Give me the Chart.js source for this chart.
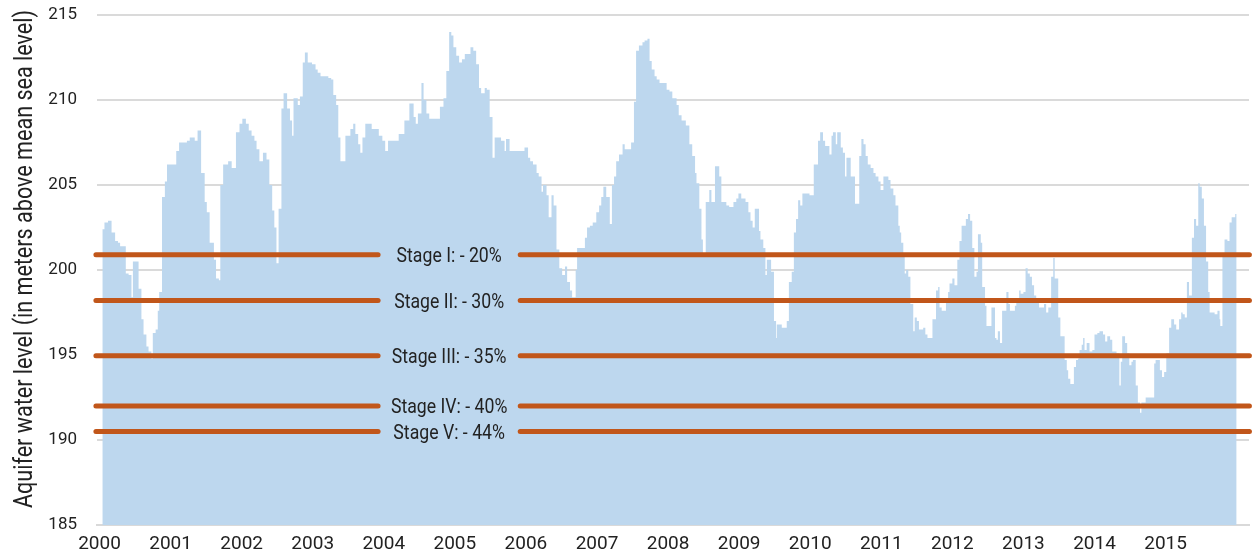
<!DOCTYPE html>
<html>
<head>
<meta charset="utf-8">
<script src="https://cdn.jsdelivr.net/npm/chart.js@4.4.1/dist/chart.umd.min.js"></script>
<style>
  html, body { margin: 0; padding: 0; background: #ffffff; }
  #wrap { width: 1256px; height: 558px; }
</style>
</head>
<body>
<div id="wrap"><canvas id="chart" width="1256" height="558"></canvas></div>
<script>
// Aquifer level record: each reading holds until the next one (decimal year, metres above mean sea level)
const dates = [
  2000.04, 2000.07, 2000.12, 2000.17, 2000.22, 2000.26, 2000.29, 2000.37, 2000.41, 2000.45,
  2000.47, 2000.55, 2000.59, 2000.62, 2000.66, 2000.69, 2000.73, 2000.75, 2000.79, 2000.82,
  2000.84, 2000.88, 2000.92, 2000.95, 2001.08, 2001.12, 2001.23, 2001.27, 2001.34, 2001.38,
  2001.43, 2001.48, 2001.51, 2001.55, 2001.61, 2001.64, 2001.68, 2001.70, 2001.74, 2001.81,
  2001.86, 2001.92, 2001.97, 2002.01, 2002.06, 2002.10, 2002.14, 2002.18, 2002.21, 2002.25,
  2002.30, 2002.35, 2002.39, 2002.43, 2002.46, 2002.49, 2002.52, 2002.56, 2002.59, 2002.64,
  2002.68, 2002.71, 2002.73, 2002.79, 2002.82, 2002.86, 2002.89, 2002.93, 2002.99, 2003.04,
  2003.07, 2003.11, 2003.22, 2003.26, 2003.29, 2003.33, 2003.36, 2003.39, 2003.46, 2003.53,
  2003.57, 2003.60, 2003.64, 2003.67, 2003.70, 2003.74, 2003.83, 2003.93, 2003.98, 2004.02,
  2004.06, 2004.21, 2004.29, 2004.36, 2004.42, 2004.45, 2004.48, 2004.53, 2004.56, 2004.60,
  2004.64, 2004.79, 2004.84, 2004.88, 2004.92, 2004.95, 2004.98, 2005.02, 2005.06, 2005.10,
  2005.14, 2005.22, 2005.26, 2005.30, 2005.34, 2005.37, 2005.42, 2005.45, 2005.49, 2005.53,
  2005.56, 2005.65, 2005.70, 2005.72, 2005.77, 2005.98, 2006.03, 2006.06, 2006.10, 2006.15,
  2006.18, 2006.22, 2006.24, 2006.29, 2006.32, 2006.36, 2006.39, 2006.43, 2006.47, 2006.51,
  2006.55, 2006.58, 2006.62, 2006.65, 2006.70, 2006.72, 2006.83, 2006.86, 2006.90, 2006.94,
  2006.99, 2007.03, 2007.06, 2007.09, 2007.13, 2007.18, 2007.21, 2007.24, 2007.27, 2007.31,
  2007.36, 2007.39, 2007.48, 2007.52, 2007.55, 2007.59, 2007.64, 2007.67, 2007.71, 2007.74,
  2007.77, 2007.81, 2007.84, 2007.88, 2007.98, 2008.02, 2008.06, 2008.12, 2008.15, 2008.19,
  2008.25, 2008.30, 2008.34, 2008.38, 2008.40, 2008.44, 2008.47, 2008.49, 2008.53, 2008.58,
  2008.61, 2008.66, 2008.72, 2008.75, 2008.82, 2008.86, 2008.92, 2008.96, 2008.99, 2009.03,
  2009.09, 2009.13, 2009.16, 2009.19, 2009.22, 2009.28, 2009.30, 2009.34, 2009.37, 2009.39,
  2009.45, 2009.49, 2009.52, 2009.53, 2009.60, 2009.67, 2009.70, 2009.74, 2009.77, 2009.80,
  2009.83, 2009.86, 2009.89, 2009.99, 2010.05, 2010.11, 2010.14, 2010.18, 2010.21, 2010.27,
  2010.30, 2010.32, 2010.36, 2010.38, 2010.43, 2010.46, 2010.49, 2010.51, 2010.57, 2010.63,
  2010.69, 2010.72, 2010.75, 2010.78, 2010.81, 2010.85, 2010.89, 2010.92, 2010.96, 2010.99,
  2011.03, 2011.10, 2011.13, 2011.17, 2011.20, 2011.24, 2011.26, 2011.28, 2011.31, 2011.33,
  2011.35, 2011.38, 2011.41, 2011.45, 2011.47, 2011.50, 2011.53, 2011.59, 2011.62, 2011.65,
  2011.72, 2011.77, 2011.80, 2011.82, 2011.85, 2011.91, 2011.94, 2011.96, 2012.00, 2012.03,
  2012.07, 2012.10, 2012.13, 2012.19, 2012.22, 2012.25, 2012.28, 2012.31, 2012.34, 2012.36,
  2012.40, 2012.42, 2012.46, 2012.48, 2012.55, 2012.60, 2012.62, 2012.64, 2012.67, 2012.70,
  2012.76, 2012.79, 2012.81, 2012.88, 2012.90, 2012.94, 2012.96, 2013.00, 2013.03, 2013.06,
  2013.09, 2013.12, 2013.15, 2013.18, 2013.22, 2013.29, 2013.32, 2013.35, 2013.37, 2013.39,
  2013.42, 2013.44, 2013.49, 2013.52, 2013.58, 2013.61, 2013.63, 2013.66, 2013.71, 2013.74,
  2013.77, 2013.79, 2013.82, 2013.84, 2013.86, 2013.89, 2013.93, 2013.97, 2014.00, 2014.04,
  2014.07, 2014.12, 2014.15, 2014.18, 2014.22, 2014.25, 2014.31, 2014.35, 2014.37, 2014.39,
  2014.43, 2014.46, 2014.49, 2014.52, 2014.54, 2014.58, 2014.61, 2014.64, 2014.66, 2014.72,
  2014.84, 2014.86, 2014.92, 2014.95, 2014.98, 2015.01, 2015.05, 2015.08, 2015.12, 2015.15,
  2015.19, 2015.22, 2015.24, 2015.27, 2015.30, 2015.33, 2015.37, 2015.40, 2015.43, 2015.46,
  2015.48, 2015.51, 2015.54, 2015.57, 2015.60, 2015.62, 2015.69, 2015.73, 2015.76, 2015.77,
  2015.80, 2015.83, 2015.87, 2015.90, 2015.93, 2015.98, 2016.00
];

const levels = [
  202.4, 202.8, 202.9, 202.2, 201.7, 201.6, 201.4, 199.8, 199.7, 198.4,
  200.5, 198.9, 197.1, 196.2, 195.5, 195.2, 194.8, 196.3, 196.5, 197.6,
  198.7, 204.3, 205.2, 206.2, 207.0, 207.5, 207.6, 207.8, 207.6, 208.2,
  205.7, 204.0, 203.4, 201.6, 200.6, 199.5, 199.4, 205.0, 206.2, 206.4,
  206.0, 208.1, 208.6, 208.9, 208.6, 208.2, 207.9, 207.6, 207.1, 206.4,
  206.9, 206.5, 205.0, 203.5, 202.5, 200.4, 203.6, 209.5, 210.4, 209.5,
  208.8, 207.9, 210.1, 209.7, 210.2, 212.2, 212.8, 212.2, 212.1, 211.8,
  211.6, 211.4, 211.3, 211.2, 210.3, 209.7, 207.8, 206.4, 207.9, 208.3,
  208.6, 208.0, 207.4, 206.9, 207.8, 208.6, 208.3, 207.9, 207.6, 207.0,
  207.6, 208.0, 208.8, 209.8, 209.0, 208.6, 209.2, 211.0, 210.0, 209.2,
  208.9, 209.6, 210.1, 211.7, 214.0, 213.8, 213.1, 212.6, 212.2, 212.4,
  212.7, 213.1, 212.9, 212.1, 210.7, 210.4, 210.7, 210.6, 209.0, 206.6,
  207.8, 207.6, 207.0, 207.7, 207.0, 207.2, 206.6, 206.4, 206.2, 205.7,
  205.5, 204.6, 205.0, 204.4, 203.1, 204.4, 203.8, 201.2, 200.1, 199.7,
  200.2, 199.3, 198.8, 198.4, 200.0, 201.3, 201.9, 202.5, 202.6, 202.8,
  203.4, 203.8, 204.3, 204.9, 204.3, 202.7, 205.0, 205.5, 206.4, 206.8,
  207.4, 207.1, 207.5, 209.9, 212.9, 213.2, 213.4, 213.5, 213.6, 212.3,
  211.8, 211.4, 211.2, 211.0, 210.6, 210.5, 210.1, 209.7, 209.1, 208.8,
  208.5, 207.4, 206.7, 205.7, 205.1, 203.6, 201.8, 200.8, 204.0, 204.7,
  204.0, 206.1, 205.5, 204.0, 203.8, 203.7, 204.0, 204.2, 204.5, 204.2,
  204.0, 203.4, 202.9, 202.5, 203.6, 202.3, 201.8, 201.3, 199.7, 200.6,
  199.9, 197.0, 196.0, 196.8, 196.6, 197.0, 199.3, 199.9, 202.2, 203.0,
  204.1, 203.8, 204.5, 204.4, 206.2, 207.6, 208.1, 207.6, 207.3, 206.8,
  207.9, 208.1, 207.4, 208.1, 207.2, 206.9, 205.5, 206.6, 205.5, 203.9,
  206.7, 207.7, 207.4, 206.7, 206.2, 206.0, 205.7, 205.5, 205.2, 204.7,
  205.5, 205.3, 204.8, 204.4, 203.8, 202.6, 202.2, 201.6, 200.8, 199.8,
  200.0, 199.6, 198.0, 196.4, 197.2, 197.0, 196.5, 196.6, 196.2, 196.0,
  197.1, 198.8, 199.0, 197.8, 197.6, 198.3, 198.7, 199.2, 199.5, 199.1,
  200.6, 201.7, 202.6, 203.0, 203.3, 202.9, 201.3, 199.6, 199.9, 202.1,
  201.6, 199.0, 197.9, 196.7, 197.8, 196.0, 195.9, 196.4, 195.7, 197.6,
  198.7, 198.0, 197.6, 197.9, 198.2, 198.8, 198.6, 198.7, 200.1, 199.8,
  199.6, 199.1, 198.5, 198.2, 197.8, 198.0, 197.5, 197.8, 197.8, 199.6,
  200.7, 199.5, 197.2, 196.1, 194.7, 194.1, 193.6, 193.3, 194.3, 194.7,
  194.8, 195.3, 195.6, 196.0, 195.3, 195.7, 195.2, 195.3, 196.2, 196.3,
  196.4, 196.2, 195.8, 196.1, 195.9, 195.2, 195.1, 193.2, 194.6, 196.1,
  195.7, 195.1, 194.4, 194.6, 194.7, 193.2, 192.2, 191.6, 192.2, 192.5,
  194.5, 194.7, 194.1, 193.7, 194.0, 195.1, 196.6, 197.1, 196.8, 196.5,
  197.1, 197.5, 197.4, 197.2, 199.3, 198.5, 201.9, 203.0, 202.6, 205.1,
  204.9, 204.2, 202.6, 200.5, 198.7, 197.5, 197.4, 197.6, 197.1, 196.7,
  200.9, 201.8, 201.7, 202.8, 203.1, 203.3, 203.3
];

// Axis ticks
const yearTicks = [2000, 2001, 2002, 2003, 2004, 2005, 2006, 2007, 2008, 2009, 2010, 2011, 2012, 2013, 2014, 2015];
const levelTicks = [185, 190, 195, 200, 205, 210, 215];

// Drought restriction stages: trigger level and pumping cut
const stageNames = ['Stage I: - 20%', 'Stage II: - 30%', 'Stage III: - 35%', 'Stage IV: - 40%', 'Stage V: - 44%'];
const stageLevels = [200.9, 198.2, 194.95, 192.0, 190.5];

const AXIS_TITLE = 'Aquifer water level (in meters above mean sea level)';
const FONT = "'Roboto', 'Liberation Sans', sans-serif";
const TEXT = '#222222';
const FILL = '#bdd7ee';
const STAGE_COLOR = '#c1561a';

// Stage line layout in axis units: two segments with the label between them
const STAGE_LEFT = [1999.95, 2003.92];
const STAGE_RIGHT = [2005.92, 2016.18];
const STAGE_LABEL_X = 2004.92;
const STAGE_LABEL_WIDTH = 110;   // px, condensed label width
const TITLE_LENGTH = 498;        // px, condensed axis title length

const points = dates.map((d, i) => ({ x: d, y: levels[i] }));

// draws text horizontally condensed so that the reference string spans `width` px
function condensedText(ctx, text, x, y, factor) {
  ctx.save();
  ctx.translate(x, y);
  ctx.scale(factor, 1);
  ctx.fillText(text, 0, 0);
  ctx.restore();
}

const stagePlugin = {
  id: 'stages',
  afterDatasetsDraw(chart) {
    const { ctx, scales } = chart;
    const xs = scales.x, ys = scales.y;
    ctx.save();
    ctx.lineWidth = 5;
    ctx.lineCap = 'round';
    ctx.strokeStyle = STAGE_COLOR;
    ctx.fillStyle = TEXT;
    ctx.font = '20.5px ' + FONT;
    ctx.textAlign = 'center';
    ctx.textBaseline = 'alphabetic';
    const factor = STAGE_LABEL_WIDTH / ctx.measureText(stageNames[1]).width;
    stageLevels.forEach((lvl, i) => {
      const py = ys.getPixelForValue(lvl);
      [STAGE_LEFT, STAGE_RIGHT].forEach(seg => {
        ctx.beginPath();
        ctx.moveTo(xs.getPixelForValue(seg[0]), py);
        ctx.lineTo(xs.getPixelForValue(seg[1]), py);
        ctx.stroke();
      });
      condensedText(ctx, stageNames[i], xs.getPixelForValue(STAGE_LABEL_X), py + 7.3, factor);
    });
    ctx.restore();

    // vertical axis title
    ctx.save();
    ctx.fillStyle = TEXT;
    ctx.font = '25px ' + FONT;
    ctx.textAlign = 'center';
    ctx.textBaseline = 'alphabetic';
    const tf = TITLE_LENGTH / ctx.measureText(AXIS_TITLE).width;
    ctx.translate(31.5, 259);
    ctx.rotate(-Math.PI / 2);
    ctx.scale(tf, 1);
    ctx.fillText(AXIS_TITLE, 0, 0);
    ctx.restore();
  }
};

new Chart(document.getElementById('chart'), {
  type: 'line',
  data: {
    datasets: [{
      data: points,
      stepped: 'before',
      fill: 'start',
      backgroundColor: FILL,
      borderColor: 'rgba(0,0,0,0)',
      borderWidth: 0,
      pointRadius: 0,
      tension: 0
    }]
  },
  options: {
    responsive: false,
    animation: false,
    events: [],
    layout: { padding: { left: 0, right: 7, top: 15, bottom: 0 } },
    plugins: { legend: { display: false }, tooltip: { enabled: false } },
    scales: {
      x: {
        type: 'linear',
        min: 1999.965,
        max: 2016.174,
        afterBuildTicks: s => { s.ticks = yearTicks.map(v => ({ value: v })); },
        afterFit: s => { s.height = 33; s.paddingLeft = 0; s.paddingRight = 0; },
        grid: { display: false, drawTicks: false },
        border: { display: true, color: '#d9d9d9', width: 2 },
        ticks: {
          padding: 8,
          color: TEXT,
          font: { family: FONT, size: 19 },
          maxRotation: 0,
          autoSkip: false,
          callback: v => String(v)
        }
      },
      y: {
        min: 185,
        max: 215,
        afterBuildTicks: s => { s.ticks = levelTicks.map(v => ({ value: v })); },
        afterFit: s => { s.width = 97; s.paddingTop = 0; s.paddingBottom = 0; },
        grid: { color: '#dadada', lineWidth: 2, drawTicks: false },
        border: { display: false },
        ticks: {
          padding: 20,
          color: TEXT,
          font: { family: FONT, size: 17 },
          callback: v => String(v)
        }
      }
    }
  },
  plugins: [stagePlugin]
});
</script>
</body>
</html>
